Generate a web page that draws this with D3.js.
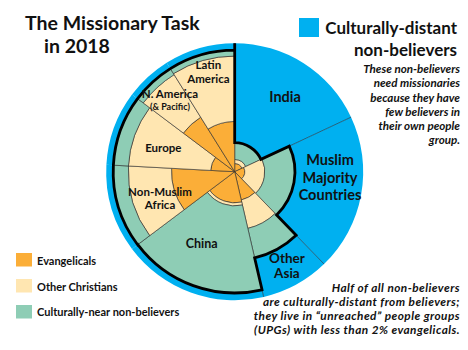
<!DOCTYPE html>
<html><head><meta charset="utf-8">
<script src="https://cdn.jsdelivr.net/npm/d3@7"></script>
<style>
html,body{margin:0;padding:0;background:#fff;}
svg{display:block;font-family:Lato,"Open Sans",sans-serif;}
</style></head>
<body><svg id="c" width="468" height="350"></svg>
<script>
// ---- data ----
const regions = ["India","Muslim Majority Countries","Other Asia","China","Non-Muslim Africa","Europe","N. America (& Pacific)","Latin America"];
const population = [1370,1500,655,1395,845,715,445,675];            // millions (slice angle)
const evangelicals     = [0.4, 0.6, 5.1, 5.9, 24.2, 3.5, 25.0, 15.3];  // % of region
const otherChristians  = [0.5, 4.9, 15.4, 1.2, 44.4, 65.1, 54.3, 65.7];
const nearNonBelievers = [4.2, 16.5, 26.8, 81.9, 20.8, 20.8, 10.1, 8.4];
const distantNonBelievers = regions.map((d,i)=>+(100-evangelicals[i]-otherChristians[i]-nearNonBelievers[i]).toFixed(1));
const layerNames = ["Evangelicals","Other Christians","Culturally-near non-believers","Culturally-distant non-believers"];
const layerColors = ["#FBAE38","#FFE6B1","#8ECDB5","#00B0F0"];
const regionLabels = [["India"],["Muslim","Majority","Countries"],["Other","Asia"],["China"],["Non-Muslim","Africa"],["Europe"],["N. America","(& Pacific)"],["Latin","America"]];

// ---- layout ----
const W=468,H=350, cx=234.7, cy=171.7, R=128.5;
const svg=d3.select("#c");
svg.append("rect").attr("width",W).attr("height",H).attr("fill","#fff");
const g=svg.append("g").attr("transform",`translate(${cx},${cy})`);

const total=d3.sum(population);
const ang=d3.scaleLinear().domain([0,total]).range([0,2*Math.PI]);
const rad=d3.scaleSqrt().domain([0,100]).range([0,R]);
const cumPop=[0]; population.forEach((p,i)=>cumPop.push(cumPop[i]+p));
const layers=[evangelicals,otherChristians,nearNonBelievers,distantNonBelievers];

const cells=[];
regions.forEach((r,i)=>{
  let c=0;
  layers.forEach((L,j)=>{
    const v0=c; c+=L[i];
    cells.push({region:i,layer:j,a0:ang(cumPop[i]),a1:ang(cumPop[i+1]),r0:rad(v0),r1:rad(Math.min(c,100))});
  });
});
const arc=d3.arc();
g.selectAll("path.cell").data(cells).join("path").attr("class","cell")
 .attr("d",d=>arc({innerRadius:d.r0,outerRadius:d.r1,startAngle:d.a0,endAngle:d.a1}))
 .attr("fill",d=>layerColors[d.layer])
 .attr("stroke",d=>d.layer===3?"none":"#2a2a2a").attr("stroke-width",0.6);

// thin radial boundary lines through the blue area
regions.forEach((r,i)=>{
  const a=ang(cumPop[i]);
  const c3=rad(evangelicals[i]+otherChristians[i]+nearNonBelievers[i]);
  const prev=(i+regions.length-1)%regions.length;
  const p3=rad(evangelicals[prev]+otherChristians[prev]+nearNonBelievers[prev]);
  if(Math.abs(c3-p3)>1){
    const r0=Math.min(c3,p3);
    g.append("line").attr("x1",r0*Math.sin(a)).attr("y1",-r0*Math.cos(a))
     .attr("x2",R*Math.sin(a)).attr("y2",-R*Math.cos(a)).attr("stroke","#1a3a4a").attr("stroke-width",0.7);
  }
});

// thick outline of culturally-distant region
const p=d3.path();
p.moveTo(0,-R);
regions.forEach((r,i)=>{
  const a0=ang(cumPop[i]), a1=ang(cumPop[i+1]);
  const rr=rad(evangelicals[i]+otherChristians[i]+nearNonBelievers[i]);
  p.lineTo(rr*Math.sin(a0),-rr*Math.cos(a0));
  p.arc(0,0,rr,a0-Math.PI/2,a1-Math.PI/2,false);
});
p.lineTo(0,-R);
g.append("path").attr("d",p.toString()).attr("fill","none").attr("stroke","#000").attr("stroke-width",2.8).attr("stroke-linejoin","miter");

// region labels (polar placement)
const labelPolar=[[34,90,14.5,17],[93.6,95.5,14.5,17.5],[151,107.7,13.5,15.5],[204.8,78.6,12.5,14],[250.6,79.2,11.5,13],[288.4,75.2,11.5,13],[317.9,96.6,11.5,12.5],[345.2,103,11.5,14]];
regionLabels.forEach((lines,i)=>{
  const [deg,rr,fs,lh]=labelPolar[i];
  const a=deg*Math.PI/180, x=rr*Math.sin(a), y=-rr*Math.cos(a);
  const n=lines.length;
  lines.forEach((t,k)=>{
    const small = t.startsWith("(");
    g.append("text").attr("x",x).attr("y",y+(k-(n-1)/2)*lh+fs*0.36)
     .attr("text-anchor","middle").attr("font-weight",700)
     .attr("font-size",small?fs-2.5:fs).attr("fill","#111").text(t);
  });
});

// title
svg.append("text").attr("x",25).attr("y",30).attr("font-size",19.5).attr("font-weight",700).attr("fill","#111").text("The Missionary Task");
svg.append("text").attr("x",44).attr("y",53).attr("font-size",19.5).attr("font-weight",700).attr("fill","#111").text("in 2018");

// top-right legend
svg.append("rect").attr("x",299).attr("y",18).attr("width",20).attr("height",19).attr("fill",layerColors[3]);
svg.append("text").attr("x",457).attr("y",34).attr("text-anchor","end").attr("font-size",17).attr("font-weight",700).attr("fill","#111").text("Culturally-distant");
svg.append("text").attr("x",457).attr("y",56).attr("text-anchor","end").attr("font-size",17).attr("font-weight",700).attr("fill","#111").text("non-believers");
const note1=["These non-believers","need missionaries","because they have","few believers in","their own people","group."];
note1.forEach((t,k)=>svg.append("text").attr("x",460).attr("y",73.3+k*14.15).attr("text-anchor","end")
  .attr("font-size",11.6).attr("font-weight",700).attr("font-style","italic").attr("fill","#111").text(t));
const note2=["Half of all non-believers","are culturally-distant from believers;","they live in \u201cunreached\u201d people groups","(UPGs) with less than 2% evangelicals."];
note2.forEach((t,k)=>svg.append("text").attr("x",460).attr("y",291.5+k*14.3).attr("text-anchor","end")
  .attr("font-size",11.8).attr("letter-spacing",0.45).attr("font-weight",700).attr("font-style","italic").attr("fill","#111").text(t));

// bottom-left legend
[0,1,2].forEach((j,k)=>{
  svg.append("rect").attr("x",16).attr("y",253+k*26).attr("width",16).attr("height",13.5).attr("fill",layerColors[j]);
  svg.append("text").attr("x",37).attr("y",265+k*25.5).attr("font-size",11).attr("font-weight",700).attr("fill","#111").text(layerNames[j]);
});
</script></body></html>
